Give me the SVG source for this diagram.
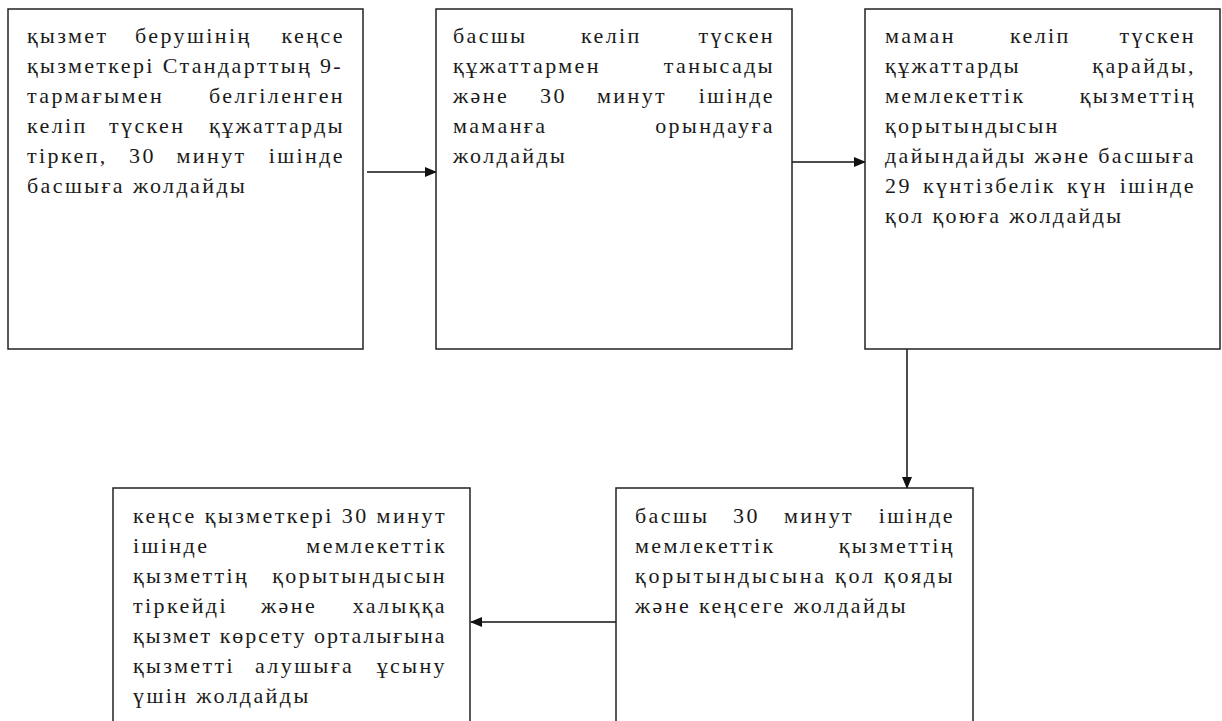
<svg xmlns="http://www.w3.org/2000/svg" width="1222" height="721" viewBox="0 0 1222 721">
<defs>
<style>
.box{fill:#fff;stroke:#222;stroke-width:1.5}
.t{font-family:"Liberation Serif","DejaVu Serif",serif;font-size:22px;fill:#1a1a1a;letter-spacing:2.4px}
.e{text-anchor:end}
.c{stroke:#111;stroke-width:1.5;fill:none}
</style>
<marker id="ah" markerWidth="12" markerHeight="10" refX="11" refY="5" orient="auto" markerUnits="userSpaceOnUse"><path d="M0,0 L12,5 L0,10 Z" fill="#111"/></marker>
</defs>
<rect width="1222" height="721" fill="#fff"/>
<g id="connectors">
<line class="c" x1="367" y1="172" x2="436" y2="172" marker-end="url(#ah)"/>
<line class="c" x1="792" y1="162" x2="865" y2="162" marker-end="url(#ah)"/>
<line class="c" x1="907" y1="349" x2="907" y2="488" marker-end="url(#ah)"/>
<line class="c" x1="616" y1="622" x2="471" y2="622" marker-end="url(#ah)"/>
</g>
<g id="n1">
<rect class="box" x="8" y="9" width="355" height="340"/>
<text class="t" y="43"><tspan x="27">қызмет</tspan><tspan x="135">берушінің</tspan></text><text class="t e" x="345" y="43">кеңсе</text>
<text class="t" x="27" y="73" textLength="316" lengthAdjust="spacing">қызметкері Стандарттың 9-</text>
<text class="t" x="27" y="103">тармағымен</text><text class="t e" x="345" y="103">белгіленген</text>
<text class="t" y="133"><tspan x="27">келіп</tspan><tspan x="109">түскен</tspan></text><text class="t e" x="345" y="133">құжаттарды</text>
<text class="t" y="163"><tspan x="27">тіркеп,</tspan><tspan x="129">30</tspan><tspan x="176.5">минут</tspan></text><text class="t e" x="345" y="163">ішінде</text>
<text class="t" x="27" y="193">басшыға жолдайды</text>
</g>
<g id="n2">
<rect class="box" x="436" y="9" width="356" height="340"/>
<text class="t" y="43"><tspan x="453">басшы</tspan><tspan x="581">келіп</tspan></text><text class="t e" x="775" y="43">түскен</text>
<text class="t" x="453" y="73">құжаттармен</text><text class="t e" x="775" y="73">танысады</text>
<text class="t" y="103"><tspan x="453">және</tspan><tspan x="540">30</tspan><tspan x="597">минут</tspan></text><text class="t e" x="775" y="103">ішінде</text>
<text class="t" x="453" y="133">маманға</text><text class="t e" x="775" y="133">орындауға</text>
<text class="t" x="453" y="163">жолдайды</text>
</g>
<g id="n3">
<rect class="box" x="865" y="9" width="355" height="340"/>
<text class="t" y="43"><tspan x="885">маман</tspan><tspan x="1010">келіп</tspan></text><text class="t e" x="1196" y="43">түскен</text>
<text class="t" x="885" y="73">құжаттарды</text><text class="t e" x="1196" y="73">қарайды,</text>
<text class="t" x="885" y="103">мемлекеттік</text><text class="t e" x="1196" y="103">қызметтің</text>
<text class="t" x="885" y="133">қорытындысын</text>
<text class="t" x="885" y="163" textLength="311" lengthAdjust="spacing">дайындайды және басшыға</text>
<text class="t" y="193"><tspan x="885">29</tspan><tspan x="923">күнтізбелік</tspan><tspan x="1067">күн</tspan></text><text class="t e" x="1196" y="193">ішінде</text>
<text class="t" x="885" y="223">қол қоюға жолдайды</text>
</g>
<g id="n4">
<rect class="box" x="616" y="488" width="357" height="250"/>
<text class="t" y="523"><tspan x="635">басшы</tspan><tspan x="733">30</tspan><tspan x="784">минут</tspan></text><text class="t e" x="955" y="523">ішінде</text>
<text class="t" x="635" y="553">мемлекеттік</text><text class="t e" x="955" y="553">қызметтің</text>
<text class="t" x="635" y="583" textLength="320" lengthAdjust="spacing">қорытындысына қол қояды</text>
<text class="t" x="635" y="613">және кеңсеге жолдайды</text>
</g>
<g id="n5">
<rect class="box" x="113" y="488" width="357" height="250"/>
<text class="t" x="133" y="523" textLength="314" lengthAdjust="spacing">кеңсе қызметкері 30 минут</text>
<text class="t" x="133" y="553">ішінде</text><text class="t e" x="447" y="553">мемлекеттік</text>
<text class="t" x="133" y="583">қызметтің</text><text class="t e" x="447" y="583">қорытындысын</text>
<text class="t" y="613"><tspan x="133">тіркейді</tspan><tspan x="261">және</tspan></text><text class="t e" x="447" y="613">халыққа</text>
<text class="t" x="133" y="643" textLength="314" lengthAdjust="spacing">қызмет көрсету орталығына</text>
<text class="t" y="673"><tspan x="133">қызметті</tspan><tspan x="255">алушыға</tspan></text><text class="t e" x="447" y="673">ұсыну</text>
<text class="t" x="133" y="703">үшін жолдайды</text>
</g>
</svg>
